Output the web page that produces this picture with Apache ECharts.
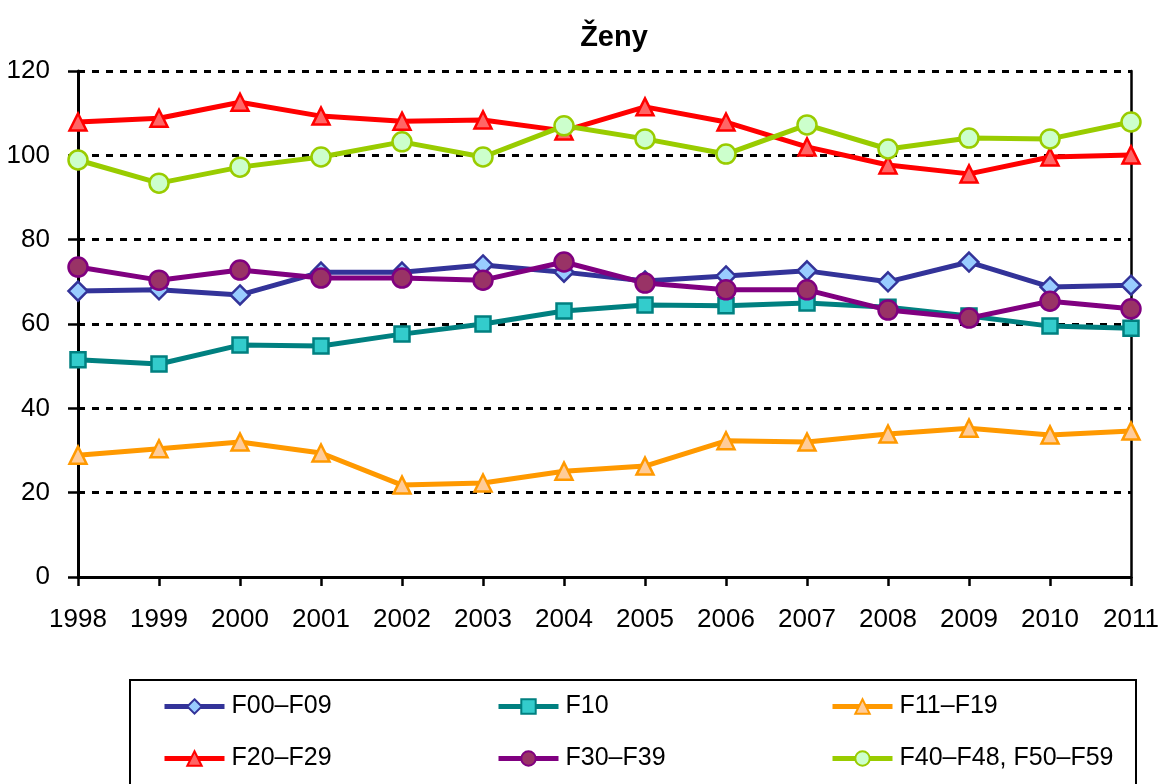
<!DOCTYPE html>
<html>
<head>
<meta charset="utf-8">
<title>Ženy</title>
<script src="https://cdn.jsdelivr.net/npm/echarts@6/dist/echarts.min.js"></script>
<style>
  html, body { margin: 0; padding: 0; background: #fff; }
  #chart { width: 1162px; height: 784px; }
</style>
</head>
<body>
<div id="chart"></div>
<script>
// roky na ose x
const years = ['1998', '1999', '2000', '2001', '2002', '2003', '2004', '2005', '2006', '2007', '2008', '2009', '2010', '2011']

// hodnoty
const f00f09 = [67.8, 68.1, 66.9, 72.3, 72.3, 74.0, 72.3, 70.2, 71.4, 72.6, 70.0, 74.7, 68.8, 69.2]
const f10 = [51.5, 50.5, 55.0, 54.8, 57.6, 60.0, 63.1, 64.5, 64.3, 65.0, 64.0, 61.9, 59.5, 59.0]
const f11f19 = [28.9, 30.4, 32.0, 29.4, 21.8, 22.3, 25.1, 26.3, 32.3, 32.0, 33.9, 35.3, 33.7, 34.6]
const f20f29 = [107.9, 108.8, 112.6, 109.3, 108.1, 108.4, 105.8, 111.5, 107.9, 102.0, 97.7, 95.6, 99.6, 100.1]
const f30f39 = [73.5, 70.4, 72.8, 70.9, 70.9, 70.4, 74.7, 69.7, 68.1, 68.1, 63.3, 61.4, 65.4, 63.6]
const f40f59 = [98.9, 93.4, 97.2, 99.6, 103.2, 99.6, 107.0, 103.9, 100.3, 107.2, 101.5, 104.1, 103.9, 107.9]

const yTicks = { min: 0, max: 120, interval: 20 }

const font = '"Liberation Sans Narrow", "Liberation Sans", Arial, sans-serif'

const makeSeries = (name, data, symbol, size, line, fill, border) => ({
  name,
  type: 'line',
  data,
  symbol,
  symbolSize: size,
  lineStyle: { color: line, width: 5 },
  itemStyle: { color: fill, borderColor: border, borderWidth: 2.5 },
  z: 3
})

const series = [
  makeSeries('F00–F09', f00f09, 'diamond', 19, '#333399', '#99CCFF', '#333399'),
  makeSeries('F10', f10, 'rect', 15, '#008080', '#33CCCC', '#008080'),
  makeSeries('F11–F19', f11f19, 'triangle', 17, '#FF9900', '#FFCC99', '#FF9900'),
  makeSeries('F20–F29', f20f29, 'triangle', 17, '#FF0000', '#FF6666', '#FF0000'),
  makeSeries('F30–F39', f30f39, 'circle', 19, '#800080', '#993366', '#800080'),
  makeSeries('F40–F48, F50–F59', f40f59, 'circle', 19, '#99CC00', '#CCFFCC', '#99CC00')
]

// legenda 3 sloupce x 2 řádky
const legendPos = [
  [162, 694], [496, 694], [830, 694],
  [162, 746], [496, 746], [830, 746]
]
const legends = series.map((s, i) => ({
  data: [s.name],
  left: legendPos[i][0],
  top: legendPos[i][1],
  itemWidth: 60,
  itemHeight: 18,
  padding: 0,
  selectedMode: false,
  lineStyle: { width: 5 },
  textStyle: { fontFamily: font, fontSize: 25, color: '#000', padding: [0, 0, 0, 2] }
}))

const options = {
  animation: false,
  backgroundColor: '#fff',
  title: {
    text: 'Ženy',
    left: 609,
    textAlign: 'center',
    top: 18,
    textStyle: { fontFamily: '"Liberation Sans", Arial, sans-serif', fontSize: 29, fontWeight: 'bold', color: '#000' }
  },
  grid: { left: 78, right: 31, top: 71, bottom: 207 },
  legend: legends,
  graphic: [
    {
      type: 'rect',
      shape: { x: 130, y: 680, width: 1006, height: 120 },
      style: { fill: 'none', stroke: '#000', lineWidth: 2 }
    }
  ],
  xAxis: {
    type: 'category',
    data: years,
    boundaryGap: false,
    axisLine: { lineStyle: { color: '#000', width: 3 } },
    axisTick: { show: true, length: 9, lineStyle: { color: '#000', width: 2.5 } },
    axisLabel: { fontFamily: font, fontSize: 26, color: '#000', margin: 30 },
    splitLine: { show: false }
  },
  yAxis: [
    {
      type: 'value',
      min: yTicks.min,
      max: yTicks.max,
      interval: yTicks.interval,
      axisLine: { show: true, lineStyle: { color: '#000', width: 3 } },
      axisTick: { show: true, length: 10, lineStyle: { color: '#000', width: 2.5 } },
      axisLabel: { fontFamily: font, fontSize: 26, color: '#000', margin: 28 },
      splitLine: { show: true, lineStyle: { color: '#000', width: 3, type: [7, 7] } }
    },
    {
      type: 'value',
      position: 'right',
      min: yTicks.min,
      max: yTicks.max,
      interval: yTicks.interval,
      axisLine: { show: true, lineStyle: { color: '#000', width: 2.5 } },
      axisTick: { show: false },
      axisLabel: { show: false },
      splitLine: { show: false }
    }
  ],
  series
}

const mychart = echarts.init(document.getElementById('chart'))
mychart.setOption(options)
window.addEventListener('resize', () => {
  mychart.resize()
})
</script>
</body>
</html>
